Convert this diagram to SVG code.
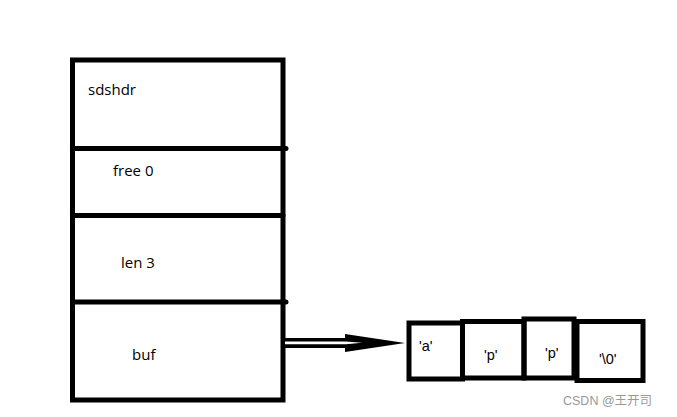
<svg xmlns="http://www.w3.org/2000/svg" width="677" height="417" viewBox="0 0 677 417">
<style>
.box{fill:none;stroke:#000;stroke-width:5}
.div{stroke:#000;stroke-width:5;stroke-linecap:round}
.lbl{font-family:"Segoe UI","Open Sans","Noto Sans",sans-serif;font-size:15px;fill:#000}
.cl{font-family:"Liberation Sans",Arial,sans-serif;font-size:14.5px;fill:#000}
.wm{font-family:"Liberation Sans","Noto Sans CJK SC",sans-serif;font-size:12.5px;fill:#999}
</style>
<rect width="677" height="417" fill="#fff"/>
<g id="sdshdr">
<rect class="box" x="72.5" y="60" width="210.5" height="340"/>
<text class="lbl" x="88" y="95">sdshdr</text>
</g>
<g id="free">
<line class="div" x1="72.5" y1="148.5" x2="286" y2="148.5"/>
<text class="lbl" x="113" y="176">free 0</text>
</g>
<g id="len">
<line class="div" x1="72.5" y1="215.5" x2="283" y2="215.5"/>
<text class="lbl" x="121" y="268">len 3</text>
</g>
<g id="buf">
<line class="div" x1="72.5" y1="302" x2="286" y2="302"/>
<text class="lbl" x="132" y="360">buf</text>
</g>
<g id="cell-a">
<rect class="box" x="409" y="323" width="53.5" height="56"/>
<text class="cl" x="419" y="351">'a'</text>
</g>
<g id="cell-p1">
<rect class="box" x="462.5" y="321.5" width="61.5" height="56.5"/>
<text class="cl" x="484" y="360">'p'</text>
</g>
<g id="cell-p2">
<rect class="box" x="524" y="319" width="50" height="59"/>
<text class="cl" x="545" y="358">'p'</text>
</g>
<g id="cell-nul">
<rect class="box" x="577" y="321.5" width="66" height="59"/>
<text class="cl" x="599" y="363.5">'\0'</text>
</g>
<g id="connectors">
<path d="M285,338 H345 V334 L405,343 L345,352 V348 H285 Z" fill="#000"/>
<path d="M285,341.5 H346 L362,342.8 L346,344.3 H285 Z" fill="#fff"/>
</g>
<text class="wm" x="563" y="405">CSDN @王开司</text>
</svg>
